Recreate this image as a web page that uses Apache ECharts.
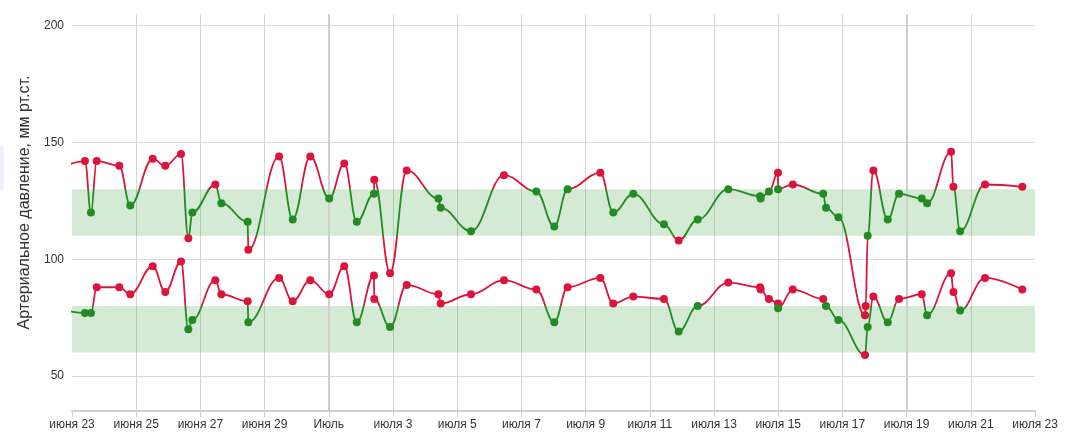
<!DOCTYPE html>
<html>
<head>
<meta charset="utf-8">
<script src="https://cdn.jsdelivr.net/npm/echarts@6/dist/echarts.min.js"></script>
<style>
html, body { margin: 0; padding: 0; background: #fff; }
#chart { width: 1076px; height: 447px; }
</style>
</head>
<body>
<div id="chart"></div>
<script>
// measurement times (local), first one sits before the visible range
var times = [
	'2019-06-22T19:00',
	'2019-06-23T09:40', '2019-06-23T14:10', '2019-06-23T18:30', '2019-06-24T11:20', '2019-06-24T19:35',
	'2019-06-25T12:20', '2019-06-25T21:45', '2019-06-26T09:30', '2019-06-26T15:00', '2019-06-26T18:00',
	'2019-06-27T11:10', '2019-06-27T15:40', '2019-06-28T11:20', '2019-06-28T11:50', '2019-06-29T10:50',
	'2019-06-29T21:00', '2019-06-30T10:10', '2019-07-01T00:20', '2019-07-01T11:35', '2019-07-01T20:55',
	'2019-07-02T09:45', '2019-07-02T10:00', '2019-07-02T21:50', '2019-07-03T10:15', '2019-07-04T09:55',
	'2019-07-04T11:40', '2019-07-05T10:20', '2019-07-06T11:00', '2019-07-07T11:10', '2019-07-08T00:35',
	'2019-07-08T10:35', '2019-07-09T11:00', '2019-07-09T20:40', '2019-07-10T11:40', '2019-07-11T10:35',
	'2019-07-11T21:35', '2019-07-12T11:50', '2019-07-13T10:40', '2019-07-14T10:25', '2019-07-14T10:55',
	'2019-07-14T17:05', '2019-07-14T23:50', '2019-07-14T23:55', '2019-07-15T10:55', '2019-07-16T09:40',
	'2019-07-16T11:45', '2019-07-16T21:00', '2019-07-17T16:55', '2019-07-17T17:25', '2019-07-17T18:55',
	'2019-07-17T23:10', '2019-07-18T09:55', '2019-07-18T18:20', '2019-07-19T11:20', '2019-07-19T15:20',
	'2019-07-20T09:15', '2019-07-20T11:00', '2019-07-20T16:00', '2019-07-21T10:40', '2019-07-22T14:30'
];

var systolic = [
	140,
	142, 120, 142, 140, 123, 143, 140, 145, 109, 120,
	132, 124, 116, 104, 144, 117, 144, 126, 141, 116,
	128, 134, 94, 138, 126, 122, 112, 136, 129, 114,
	130, 137, 120, 128, 115, 108, 117, 130, 127, 126,
	129, 137, 130, 132, 128, 122, 118, 76, 80, 110,
	138, 117, 128, 126, 124, 146, 131, 112, 132, 131
];

var diastolic = [
	78,
	77, 77, 88, 88, 85, 97, 86, 99, 70, 74,
	91, 85, 82, 73, 92, 82, 91, 85, 97, 73,
	93, 83, 71, 89, 85, 81, 85, 91, 87, 73,
	88, 92, 81, 84, 83, 69, 80, 90, 88, 87,
	83, 81, 79, 87, 83, 80, 74, 59, null, 71,
	84, 73, 83, 85, 76, 94, 86, 78, 92, 87
];

// normal ranges
var sysNorm = [110, 130];
var diaNorm = [60, 80];

var yTicks = [50, 100, 150, 200];
var markedDays = ['2019-07-01T00:00', '2019-07-19T00:00'];
var rangeStart = '2019-06-23T00:00';
var rangeEnd = '2019-07-23T00:00';

var monthsGen = ['января', 'февраля', 'марта', 'апреля', 'мая', 'июня', 'июля', 'августа', 'сентября', 'октября', 'ноября', 'декабря'];
var monthsNom = ['Январь', 'Февраль', 'Март', 'Апрель', 'Май', 'Июнь', 'Июль', 'Август', 'Сентябрь', 'Октябрь', 'Ноябрь', 'Декабрь'];

var DAY = 24 * 3600 * 1000;
var RED = '#dc143c';
var GREEN = '#228b22';

function ts(s) { return new Date(s).getTime(); }

function pairs(vals) {
	return times.map(function (t, i) { return [ts(t), vals[i]]; });
}

var myChart = echarts.init(document.getElementById('chart'));

var option = {
	animation: false,
	textStyle: { fontFamily: 'Arial, "Liberation Sans", sans-serif' },
	grid: { left: 72, right: 41, top: 14, bottom: 36 },
	graphic: [{
		type: 'rect',
		shape: { x: -8, y: 145, width: 12, height: 46, r: 4 },
		style: { fill: '#eef3fb' },
		silent: true
	}],
	xAxis: {
		type: 'value',
		min: ts(rangeStart),
		max: ts(rangeEnd),
		interval: 2 * DAY,
		axisLine: { lineStyle: { color: '#cfcfcf', width: 2 } },
		axisTick: { length: 6, lineStyle: { color: '#cfcfcf', width: 1 } },
		axisLabel: {
			color: '#333',
			fontSize: 12,
			margin: 8,
			formatter: function (v) {
				var d = new Date(v);
				if (d.getDate() === 1) return monthsNom[d.getMonth()];
				return monthsGen[d.getMonth()] + ' ' + d.getDate();
			}
		},
		splitLine: { show: true, showMinLine: false, showMaxLine: false, lineStyle: { color: '#d6d6d6', width: 1 } }
	},
	yAxis: {
		type: 'value',
		min: 35,
		max: 205,
		interval: 5,
		name: 'Артериальное давление, мм рт.ст.',
		nameLocation: 'middle',
		nameGap: 37,
		nameTextStyle: { color: '#333', fontSize: 16, padding: [0, 0, 0, 20] },
		axisLine: { show: false },
		axisTick: { show: false },
		splitLine: { show: false },
		axisLabel: {
			color: '#333',
			fontSize: 12,
			margin: 8,
			formatter: function (v) { return yTicks.indexOf(v) >= 0 ? String(v) : ''; }
		}
	},
	visualMap: [
		{
			show: false, type: 'piecewise', seriesIndex: 0, dimension: 1,
			pieces: [{ gte: sysNorm[0], lte: sysNorm[1], color: GREEN }],
			outOfRange: { color: RED }
		},
		{
			show: false, type: 'piecewise', seriesIndex: 1, dimension: 1,
			pieces: [{ gte: diaNorm[0], lte: diaNorm[1], color: GREEN }],
			outOfRange: { color: RED }
		}
	],
	series: [
		{
			name: 'Систолическое',
			type: 'line',
			data: pairs(systolic),
			smooth: 0.4,
			smoothMonotone: 'x',
			symbol: 'circle',
			symbolSize: 8,
			lineStyle: { width: 1.8 },
			z: 3,
			markArea: {
				silent: true,
				itemStyle: { color: 'rgba(0,128,0,0.17)' },
				data: [
					[{ yAxis: sysNorm[0] }, { yAxis: sysNorm[1] }],
					[{ yAxis: diaNorm[0] }, { yAxis: diaNorm[1] }]
				]
			}
		},
		{
			name: 'Диастолическое',
			type: 'line',
			data: pairs(diastolic),
			connectNulls: true,
			smooth: 0.4,
			smoothMonotone: 'x',
			symbol: 'circle',
			symbolSize: 8,
			lineStyle: { width: 1.8 },
			z: 3,
			markLine: {
				silent: true,
				z: 1,
				symbol: ['none', 'none'],
				label: { show: false },
				data: yTicks.map(function (v) {
					return { yAxis: v, lineStyle: { color: '#d9d9d9', width: 1, type: 'solid' } };
				}).concat(markedDays.map(function (d) {
					return { xAxis: ts(d), lineStyle: { color: '#cfcfcf', width: 2, type: 'solid' } };
				}))
			}
		}
	]
};

myChart.setOption(option);
</script>
</body>
</html>
